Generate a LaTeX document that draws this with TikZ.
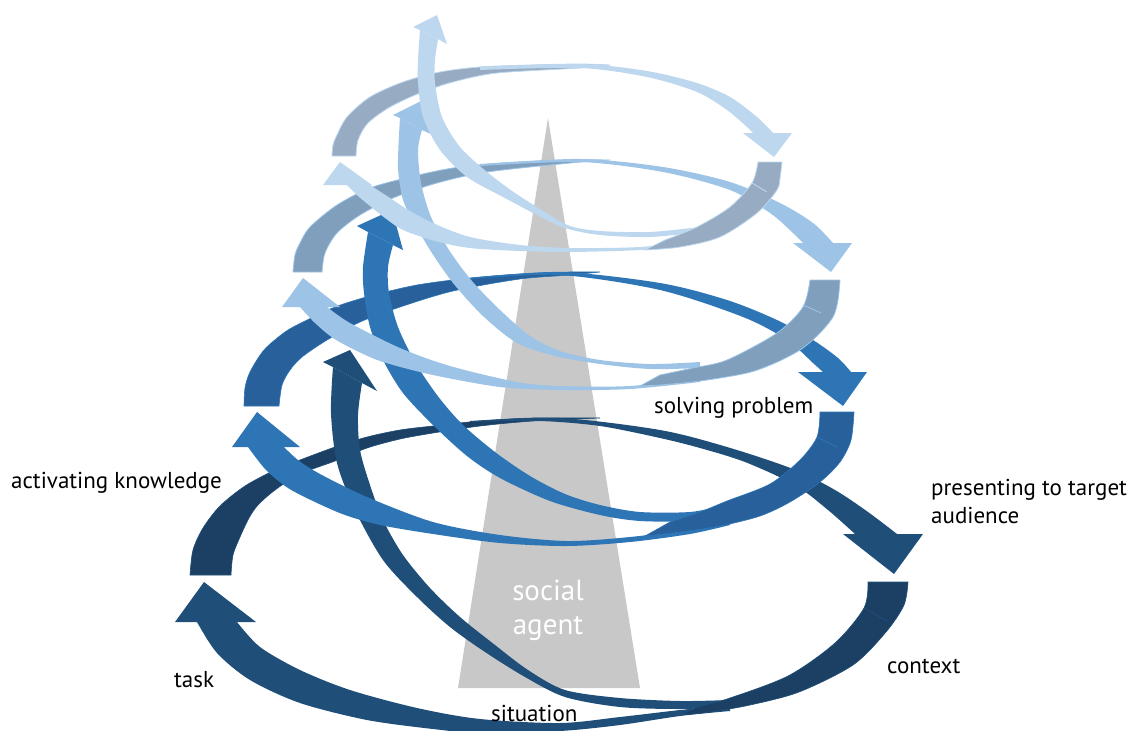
\documentclass[tikz,border=0pt]{standalone}
\usepackage{fontspec}
\setmainfont{PT Sans}
\definecolor{Lonef}{HTML}{1F4E79}
\definecolor{Loneb}{HTML}{1C4064}
\definecolor{Ltwof}{HTML}{2E75B6}
\definecolor{Ltwob}{HTML}{27609A}
\definecolor{Lthreef}{HTML}{9DC3E6}
\definecolor{Lthreeb}{HTML}{7F9FBD}
\definecolor{Lfourf}{HTML}{BDD7EE}
\definecolor{Lfourb}{HTML}{97ACC2}
\definecolor{tri}{HTML}{C8C8C8}
\newcommand{\band}[3]{\filldraw[#1] plot[smooth] coordinates {#2} -- plot[smooth] coordinates {#3} -- cycle;}
\tikzset{
  lbl/.style={anchor=base west, inner sep=0pt, font=\fontsize{23}{27}\selectfont, text=black},
  agent/.style={anchor=base, inner sep=0pt, font=\fontsize{29}{33}\selectfont, text=white},
}
\begin{document}
\begin{tikzpicture}[x=1pt,y=-1pt]
\useasboundingbox (0,0) rectangle (1130,731);
% triangle
\fill[tri] (548,118) -- (640,688) -- (458,688) -- cycle;
\node[agent] (soc) at (548,600) {social};
\node[agent] (agt) at (548,634) {agent};

% ================= Level 1 =================
\band{fill=Loneb,draw=Lonef,line width=0.6}{(190,575) (193,550) (203,528) (220,506) (245,486) (275,470) (300,460) (335,447) (367,437) (400,430) (433,426) (480,421) (533,418) (600,418)}
  {(600,418) (533,421) (480,426) (433,433) (400,439) (367,448) (335,461) (300,474) (275,490) (258,505) (249,518) (240,537) (233,555) (231,575)}
\band{fill=Lonef,draw=none}{(470,421) (560,418) (660,430) (727,447) (793,469) (835,490) (868,512) (897,534)}
  {(855,534) (828,510) (795,485) (745,462) (700,448) (660,438) (600,426) (540,421) (470,422)}
\fill[Lonef] (843,534) -- (923,534) -- (894,574) -- cycle;
% B front
\band{fill=Lonef,draw=none}{(730,711) (680,716) (620,725) (560,731) (480,733) (433,729) (367,720) (300,703) (250,680) (217,653) (197,622)}
  {(237,622) (260,647) (300,670) (350,690) (417,708) (480,719) (560,723) (620,717) (680,710) (730,705)}
\fill[Lonef] (175,622) -- (256,622) -- (204,582) -- cycle;
% riser
\band{fill=Lonef,draw=none}{(333,367) (331,413) (337,463) (355,510) (383,560) (417,597) (450,627) (485,652) (525,677) (565,697) (620,707) (680,709) (730,707)}
  {(730,700) (680,701) (620,698) (565,690) (528,670) (495,645) (460,617) (430,588) (403,555) (383,520) (370,485) (360,450) (358,415) (362,383)}
\fill[Lonef] (350,350) -- (323,362) -- (333,367) -- (362,383) -- (377,391) -- cycle;
% back crescent
\band{fill=Loneb,draw=Lonef,line width=0.6}{(908,582) (904,605) (886,632) (853,665) (799,692) (750,705) (710,712) (680,715)}
  {(700,706) (727,699) (788,676) (835,643) (864,608) (868,582)}
\draw[Lonef,line width=0.8] (864,608) -- (887,621);

% ================= Level 2 =================
\band{fill=Ltwob,draw=Ltwof,line width=0.6}{(244,406) (245,388) (250,372) (264,350) (285,332) (303,322) (335,307) (370,296) (417,285) (470,278) (520,274) (570,272) (600,272)}
  {(600,272) (570,275) (520,279) (453,291) (400,307) (360,322) (327,340) (302,357) (290,370) (282,385) (279,406)}
\band{fill=Ltwof,draw=none}{(470,278) (560,272) (660,283) (727,300) (777,320) (813,340) (838,358) (851,372)}
  {(823,372) (813,363) (787,340) (743,317) (660,290) (560,275) (470,279)}
\fill[Ltwof] (798,372) -- (867,372) -- (843,406) -- cycle;
\band{fill=Ltwof,draw=none}{(730,525) (690,534) (630,542) (567,546) (500,543) (433,534) (380,525) (345,515) (315,502) (288,488) (266,470) (248,447)}
  {(284,447) (298,460) (320,474) (367,497) (433,522) (500,535) (567,541) (630,537) (690,529) (730,520)}
\fill[Ltwof] (232,447) -- (300,447) -- (257,412) -- cycle;
\band{fill=Ltwof,draw=none}{(368,232) (363,267) (364,293) (370,327) (383,360) (403,393) (433,425) (467,456) (500,478) (550,501) (600,515) (640,521) (690,521) (720,515)}
  {(720,506) (690,512) (640,512) (600,505) (565,494) (530,476) (495,452) (462,424) (437,395) (415,362) (398,327) (389,293) (388,267) (393,245)}
\fill[Ltwof] (392,210) -- (357,226) -- (368,232) -- (393,245) -- (403,250) -- cycle;
\band{fill=Ltwob,draw=Ltwof,line width=0.6}{(854,412) (851,440) (840,462) (820,482) (790,502) (760,516) (720,526) (680,532) (645,536)}
  {(670,522) (700,512) (727,501) (770,484) (800,460) (817,437) (820,412)}
\draw[Ltwof,line width=0.8] (817,437) -- (837,447);

% ================= Level 3 =================
\band{fill=Lthreeb,draw=Lthreef,line width=0.8}{(293,272) (295,255) (300,243) (310,227) (337,205) (370,188) (410,177) (453,168) (503,163) (570,160) (610,160)}
  {(610,160) (570,163) (487,172) (437,183) (393,198) (360,215) (337,233) (325,253) (322,272)}
\band{fill=Lthreef,draw=none}{(480,164) (580,159) (663,167) (730,182) (780,203) (813,223) (833,243)}
  {(803,243) (793,233) (770,213) (730,190) (663,172) (580,162) (480,166)}
\fill[Lthreef] (793,243) -- (852,243) -- (831,272) -- cycle;
\band{fill=Lthreef,draw=none}{(700,382) (630,389) (560,390) (500,387) (433,375) (383,362) (357,351) (333,338) (315,323) (300,307)}
  {(327,307) (350,323) (400,348) (450,366) (517,382) (560,386) (630,386) (700,378)}
\fill[Lthreef] (282,307) -- (340,307) -- (303,278) -- cycle;
\band{fill=Lthreef,draw=none}{(400,118) (398,167) (403,200) (413,220) (430,250) (453,283) (483,316) (517,343) (555,356) (600,364) (650,369) (700,368)}
  {(700,362) (650,364) (600,360) (560,351) (530,336) (500,310) (472,281) (449,250) (431,217) (421,183) (418,150) (422,130)}
\fill[Lthreef] (423,100) -- (393,115) -- (400,118) -- (422,130) -- (433,135) -- cycle;
\band{fill=Lthreeb,draw=Lthreef,line width=0.8}{(840,280) (838,300) (833,317) (818,335) (800,350) (775,363) (747,373) (700,381) (660,385) (640,386)}
  {(660,375) (693,368) (727,360) (777,333) (803,307) (810,280)}
\draw[Lthreef,line width=0.9] (803,305) -- (821,313);

% ================= Level 4 =================
\band{fill=Lfourb,draw=Lfourf,line width=0.8}{(332,156) (333,145) (337,135) (347,117) (370,97) (403,82) (440,72) (480,67) (530,65) (580,64) (610,65)}
  {(610,65) (580,68) (497,73) (453,82) (420,93) (390,107) (368,123) (358,140) (356,156)}
\band{fill=Lfourf,draw=none}{(480,67) (580,64) (647,71) (697,83) (730,97) (757,117) (773,133)}
  {(753,133) (747,127) (727,110) (697,92) (647,77) (580,68) (480,70)}
\fill[Lfourf] (743,133) -- (792,133) -- (774,157) -- cycle;
\band{fill=Lfourf,draw=none}{(690,245) (640,250) (570,252) (520,251) (470,248) (435,241) (403,230) (385,218) (370,206) (358,196) (347,185)}
  {(370,185) (390,198) (410,211) (435,224) (470,237) (520,245) (570,248) (640,247) (690,241)}
\fill[Lfourf] (323,185) -- (372,185) -- (340,162) -- cycle;
\band{fill=Lfourf,draw=none}{(420,30) (418,60) (418,83) (423,117) (440,150) (467,177) (503,197) (537,215) (565,228) (600,235) (650,237) (700,232)}
  {(700,227) (650,232) (600,231) (570,226) (545,212) (515,193) (487,172) (460,147) (442,117) (435,83) (435,60) (438,39)}
\fill[Lfourf] (437,15) -- (413,27) -- (420,30) -- (438,39) -- (447,44) -- cycle;
\band{fill=Lfourb,draw=Lfourf,line width=0.8}{(782,162) (780,178) (777,190) (757,213) (720,237) (680,247) (645,250)}
  {(665,240) (697,227) (730,207) (752,183) (758,162)}
\draw[Lfourf,line width=0.9] (752,183) -- (767,192);

% labels
\node[lbl] (act) at (11,488) {activating knowledge};
\node[lbl] (task) at (174,687) {task};
\node[lbl] (sit) at (491,721) {situation};
\node[lbl] (ctx) at (887,673) {context};
\node[lbl] (pres) at (931,495) {presenting to target};
\node[lbl] (aud) at (931,523) {audience};
\node[lbl] (solv) at (654,413) {solving problem};
\end{tikzpicture}
\end{document}
